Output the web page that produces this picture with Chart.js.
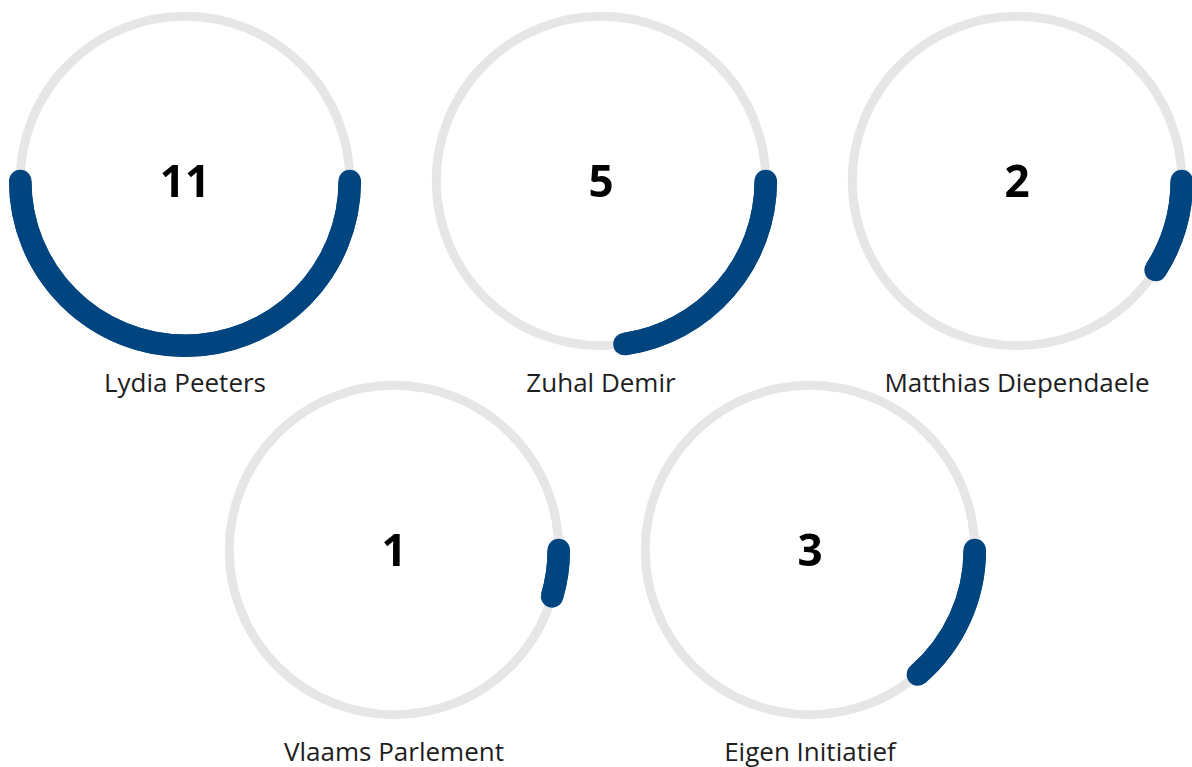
<!DOCTYPE html>
<html>
<head>
<meta charset="utf-8">
<script src="https://cdn.jsdelivr.net/npm/chart.js@4.4.1/dist/chart.umd.min.js"></script>
<style>
  html, body { margin: 0; padding: 0; background: #fff; }
  body { width: 1192px; height: 767px; position: relative; overflow: hidden; font-family: "Open Sans", sans-serif; }
  .gauge { position: absolute; width: 360px; height: 420px; }
  .gauge canvas { position: absolute; left: 0; top: 0; }
  .num { position: absolute; left: 0; width: 360px; top: 149px; text-align: center; font-weight: 700; font-size: 44px; line-height: 60px; color: #000; }
  .lbl { position: absolute; left: -60px; width: 480px; top: 364px; text-align: center; font-size: 26px; line-height: 34px; color: #1e1e1e; }
</style>
</head>
<body>
<script>
const names = ['Lydia Peeters', 'Zuhal Demir', 'Matthias Diependaele', 'Vlaams Parlement', 'Eigen Initiatief'];
const counts = [11, 5, 2, 1, 3];
const maxCount = 22;
const centers = [[185, 181], [601, 181], [1017, 181], [394, 550], [810, 550]];

const blue = '#00457f';
const track = '#e6e6e6';

// grey track under the ring, round caps on the value arc
const gaugeDeco = {
    id: 'gaugeDeco',
    beforeDatasetsDraw(chart) {
        const arc = chart.getDatasetMeta(0).data[0];
        const c = chart.ctx;
        c.save();
        c.beginPath();
        c.arc(arc.x, arc.y, (arc.innerRadius + arc.outerRadius) / 2, 0, Math.PI * 2);
        c.strokeStyle = track;
        c.lineWidth = 9;
        c.stroke();
        c.restore();
    },
    afterDatasetsDraw(chart) {
        const arc = chart.getDatasetMeta(0).data[0];
        const c = chart.ctx;
        const mid = (arc.innerRadius + arc.outerRadius) / 2;
        const w = arc.outerRadius - arc.innerRadius;
        c.save();
        c.beginPath();
        c.arc(arc.x, arc.y, mid, arc.startAngle, arc.endAngle);
        c.strokeStyle = blue;
        c.lineWidth = w;
        c.lineCap = 'round';
        c.stroke();
        c.restore();
    }
};

names.forEach((n, i) => {
    const box = document.createElement('div');
    box.className = 'gauge';
    box.style.left = (centers[i][0] - 180) + 'px';
    box.style.top = (centers[i][1] - 180) + 'px';
    box.innerHTML = `<canvas width="360" height="360"></canvas><div class="num">${counts[i]}</div><div class="lbl">${n}</div>`;
    document.body.appendChild(box);

    new Chart(box.querySelector('canvas'), {
        type: 'doughnut',
        data: {
            labels: [n, ''],
            datasets: [{
                data: [counts[i], maxCount - counts[i]],
                backgroundColor: [blue, 'rgba(0,0,0,0)'],
                borderWidth: 0,
                hoverOffset: 0
            }]
        },
        options: {
            responsive: false,
            animation: false,
            rotation: 90,
            cutout: 157,
            radius: 176,
            layout: { padding: 0 },
            events: [],
            plugins: { legend: { display: false }, tooltip: { enabled: false } }
        },
        plugins: [gaugeDeco]
    });
});
</script>
</body>
</html>
